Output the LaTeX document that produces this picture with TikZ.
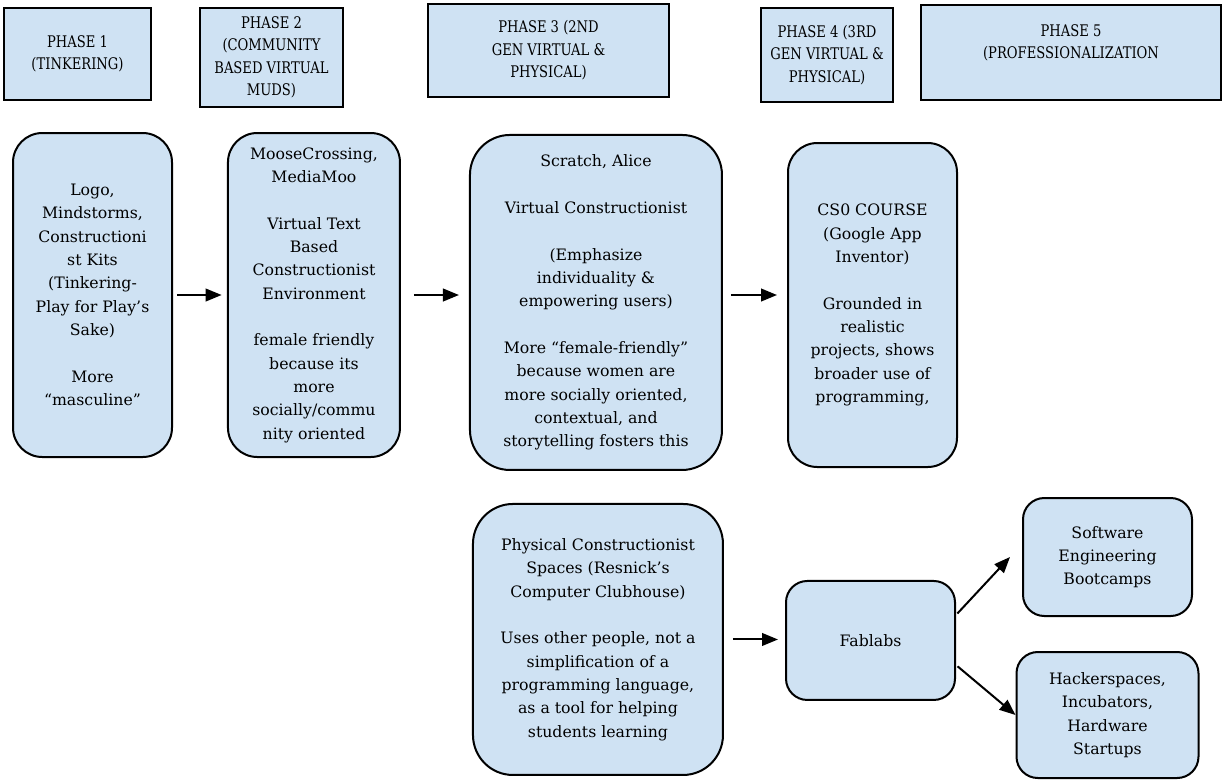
\documentclass[tikz,border=0pt]{standalone}
\usepackage{fontspec}
\setmainfont{DejaVu Serif}
\newfontfamily\headfont[FakeStretch=0.82]{DejaVu Serif}
\usetikzlibrary{arrows.meta}
\definecolor{boxblue}{HTML}{CFE2F3}

\begin{document}
\begin{tikzpicture}[
		phase/.style = {draw, fill = boxblue, line width = 1.5pt, inner sep = 0pt, align = center, font = \headfont\fontsize{12}{16.75}\selectfont},
		stage/.style = {draw, fill = boxblue, line width = 1.5pt, rounded corners = 22pt, inner sep = 0pt, align = center, font = \fontsize{11.8}{17.5}\selectfont},
		link/.style = {-{Triangle[length = 12pt, width = 9.5pt]}, line width = 1.5pt}
	]

	\useasboundingbox (0,0) rectangle (918.75pt,-584.25pt);

	% phase headers
	\node (p1) [phase, minimum width = 110.25pt, minimum height = 69pt] at (58.125pt,-40.5pt) {PHASE 1\\(TINKERING)};
	\node (p2) [right of = p1, node distance = 145.5pt, yshift = -2.6pt, phase, minimum width = 107.25pt, minimum height = 74.25pt] {PHASE 2\\(COMMUNITY\\BASED VIRTUAL\\MUDS)};
	\node (p3) [right of = p2, node distance = 207.75pt, yshift = 5.25pt, phase, minimum width = 180.75pt, minimum height = 69.75pt] {PHASE 3 (2ND\\GEN VIRTUAL \&\\PHYSICAL)};
	\node (p4) [right of = p3, node distance = 208.9pt, yshift = -3.4pt, phase, minimum width = 99pt, minimum height = 70.5pt] {PHASE 4 (3RD\\GEN VIRTUAL \&\\PHYSICAL)};
	\node (p5) [right of = p4, node distance = 183pt, yshift = 1.9pt, phase, minimum width = 225pt, minimum height = 71.25pt] {PHASE 5\\(PROFESSIONALIZATION\\ \mbox{}};

	% stages
	\node (logo) [below of = p1, node distance = 180.75pt, xshift = 11.25pt, stage, minimum width = 119.25pt, minimum height = 243pt] {Logo,\\Mindstorms,\\Constructioni\\st Kits\\(Tinkering-\\Play for Play’s\\Sake)\\[\baselineskip]More\\“masculine”};
	\node (moose) [right of = logo, node distance = 166.1pt, stage, minimum width = 129pt, minimum height = 243pt] {MooseCrossing,\\MediaMoo\\[\baselineskip]Virtual Text\\Based\\Constructionist\\Environment\\[\baselineskip]female friendly\\because its\\more\\socially/commu\\nity oriented};
	\node (scratch) [right of = moose, node distance = 211.5pt, yshift = -5.6pt, stage, rounded corners = 30pt, minimum width = 189pt, minimum height = 251.25pt] {Scratch, Alice\\[\baselineskip]Virtual Constructionist\\[\baselineskip](Emphasize\\individuality \&\\empowering users)\\[\baselineskip]More “female-friendly”\\because women are\\more socially oriented,\\contextual, and\\storytelling fosters this};
	\node (cs0) [right of = scratch, node distance = 207.4pt, yshift = -1.9pt, stage, minimum width = 126.75pt, minimum height = 243pt] {CS0 COURSE\\(Google App\\Inventor)\\[\baselineskip]Grounded in\\realistic\\projects, shows\\broader use of\\programming,};
	\node (phys) [below of = scratch, node distance = 252.75pt, xshift = 1.5pt, stage, rounded corners = 30pt, minimum width = 187.5pt, minimum height = 203.25pt] {Physical Constructionist\\Spaces (Resnick’s\\Computer Clubhouse)\\[\baselineskip]Uses other people, not a\\simplification of a\\programming language,\\as a tool for helping\\students learning};
	\node (fab) [right of = phys, node distance = 204.4pt, yshift = -0.75pt, stage, rounded corners = 16pt, minimum width = 126.75pt, minimum height = 89.25pt] {Fablabs};
	\node (soft) [right of = fab, node distance = 177.75pt, yshift = 62.6pt, stage, rounded corners = 16pt, minimum width = 126.75pt, minimum height = 88.5pt] {Software\\Engineering\\Bootcamps};
	\node (hack) [below of = soft, node distance = 118.5pt, stage, rounded corners = 16pt, minimum width = 136.5pt, minimum height = 94.5pt] {Hackerspaces,\\Incubators,\\Hardware\\Startups};

	% connectors
	\draw [link, shorten <= 3pt, shorten >= 4pt] (logo) -- (moose);
	\draw [link, shorten <= 9.75pt, shorten >= 7.5pt] (moose.east) -- (moose.east -| scratch.west);
	\draw [link, shorten <= 6pt, shorten >= 7.5pt] (scratch.east |- moose.east) -- (cs0.west |- moose.east);
	\draw [link, shorten <= 6.75pt, shorten >= 5.25pt] (phys.east) -- (phys.east -| fab.west);
	\draw [link, shorten <= 1.5pt] ([yshift = 19.1pt]fab.east) -- ([xshift = -9pt]soft.west);
	\draw [link, shorten <= 1.5pt] ([yshift = -18.4pt]fab.east) -- (hack.west);
\end{tikzpicture}
\end{document}
